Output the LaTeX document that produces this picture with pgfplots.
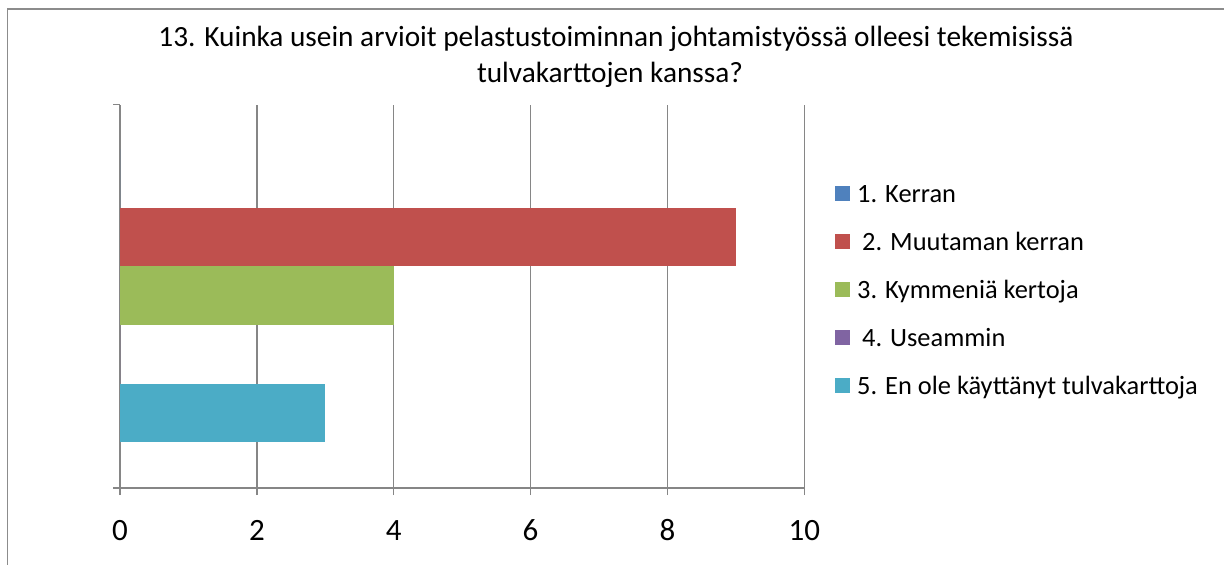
\documentclass[border=0pt]{standalone}
\usepackage{pgfplots}
\pgfplotsset{compat=1.18}
\usepackage{fontspec}
\setmainfont{Carlito}
\definecolor{sA}{HTML}{4F81BD}
\definecolor{sB}{HTML}{C0504D}
\definecolor{sC}{HTML}{9BBB59}
\definecolor{sD}{HTML}{8064A2}
\definecolor{sE}{HTML}{4BACC6}
\definecolor{gridc}{HTML}{868686}
\definecolor{framec}{HTML}{8C8C8C}
\begin{document}
\begin{tikzpicture}
\useasboundingbox (0bp,0bp) rectangle (1224bp,-565bp);
\draw[line width=1.4bp, color=framec] (7.5bp,-566bp) -- (7.5bp,-9bp) -- (1225bp,-9bp);
\node[font=\fontsize{29.3bp}{36.7bp}\selectfont, anchor=base, inner sep=0pt] at (616bp,-46bp) {13. Kuinka usein arvioit pelastustoiminnan johtamistyössä olleesi tekemisissä};
\node[font=\fontsize{29.3bp}{36.7bp}\selectfont, anchor=base, inner sep=0pt] at (610bp,-82.7bp) {tulvakarttojen kanssa?};
\begin{axis}[
  at={(120bp,-488bp)}, anchor=south west,
  scale only axis, width=684.3bp, height=383.3bp,
  xmin=0, xmax=10, ymin=0, ymax=383.3,
  xtick={0,2,4,6,8,10}, ytick={0,383.3}, yticklabels={},
  axis x line*=bottom, axis y line*=left,
  axis line style={gridc, line width=1.5bp, -},
  tick style={gridc, line width=1.5bp},
  tick align=outside, major tick length=7bp,
  xmajorgrids, major grid style={gridc, line width=1.5bp},
  /pgf/number format/assume math mode=true,
  xticklabel style={font=\fontsize{31bp}{36bp}\selectfont, anchor=base, yshift=-45bp},
  xbar, bar shift=0pt, bar width=58.6,
  every axis plot/.append style={draw=none},
  legend style={draw=none, fill=none, at={(axis description cs:1.0449,0.790)}, anchor=north west,
    font=\fontsize{26.4bp}{30bp}\selectfont, row sep=30.95bp,
    cells={anchor=west}, inner sep=0pt,
    nodes={inner sep=0pt, text height=17bp, text depth=0pt}},
  legend image code/.code={\fill[#1] (0bp,-7.5bp) rectangle (15bp,7.5bp);},
  legend cell align=left,
]
\addplot[fill=sA] coordinates {(0,309.6)};
\addplot[fill=sB] coordinates {(9,251)};
\addplot[fill=sC] coordinates {(4,192.3)};
\addplot[fill=sD] coordinates {(0,133.7)};
\addplot[fill=sE] coordinates {(3,75)};
\legend{\hspace{7bp}1. Kerran,\hspace{12bp}2. Muutaman kerran,\hspace{7bp}3. Kymmeniä kertoja,\hspace{12bp}4. Useammin,\hspace{7bp}5. En ole käyttänyt tulvakarttoja}
\end{axis}
\end{tikzpicture}
\end{document}
